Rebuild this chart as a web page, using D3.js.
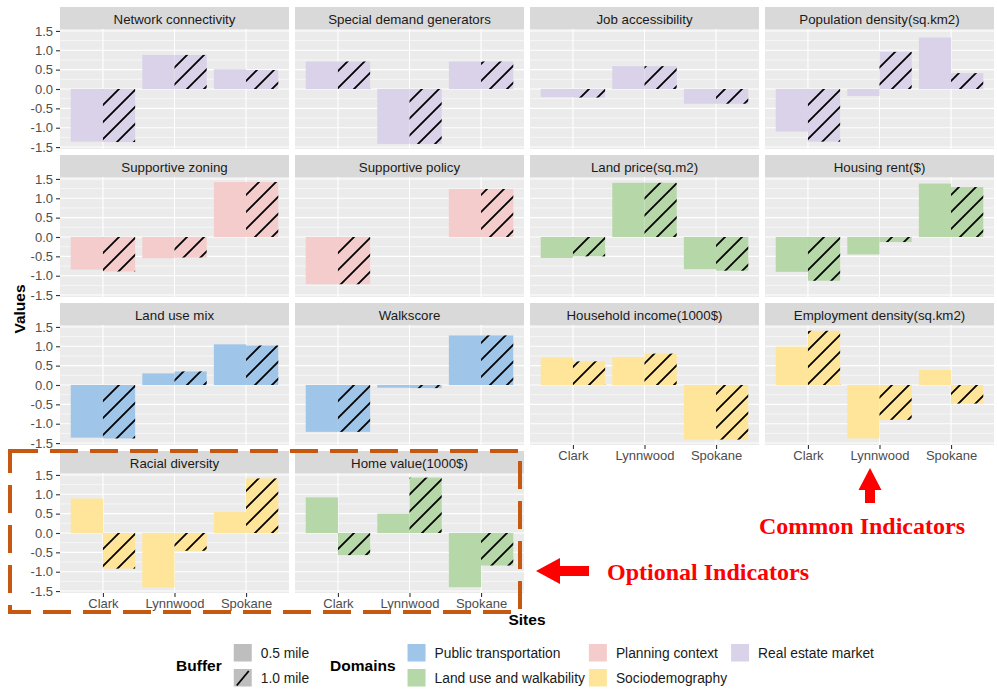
<!DOCTYPE html>
<html>
<head>
<meta charset="utf-8">
<script src="https://cdn.jsdelivr.net/npm/d3@7/dist/d3.min.js"></script>
<style>
  html, body { margin: 0; padding: 0; background: #ffffff; }
  svg { display: block; font-family: "Liberation Sans", Arial, sans-serif; }
</style>
</head>
<body>
<svg id="chart" width="997" height="692"></svg>
<script>
// Sites compared on the x axis of every facet
const sites = ["Clark", "Lynnwood", "Spokane"];
// Buffer radii (dodged bars; the wider buffer is hatched)
const buffers = ["0.5 mile", "1.0 mile"];
// Facet titles, in facet order
const indicators = [
  "Network connectivity", "Special demand generators", "Job accessibility", "Population density(sq.km2)",
  "Supportive zoning", "Supportive policy", "Land price(sq.m2)", "Housing rent($)",
  "Land use mix", "Walkscore", "Household income(1000$)", "Employment density(sq.km2)",
  "Racial diversity", "Home value(1000$)"
];
// Domain each indicator belongs to
const indicatorDomain = [
  "Real estate market", "Real estate market", "Real estate market", "Real estate market",
  "Planning context", "Planning context", "Land use and walkability", "Land use and walkability",
  "Public transportation", "Public transportation", "Sociodemography", "Sociodemography",
  "Sociodemography", "Land use and walkability"
];
// Standardised values per indicator for Clark, Lynnwood, Spokane — 0.5 mile buffer
const values05 = [
  [-1.36, 0.88, 0.51], [0.71, -1.42, 0.71], [-0.21, 0.59, -0.38], [-1.10, -0.18, 1.33],
  [-0.84, -0.55, 1.42], [-1.22, 0.00, 1.24], [-0.54, 1.40, -0.83], [-0.90, -0.45, 1.38],
  [-1.36, 0.30, 1.05], [-1.21, -0.07, 1.28], [0.71, 0.72, -1.41], [0.99, -1.38, 0.39],
  [0.89, -1.41, 0.54], [0.92, 0.50, -1.40]
];
// Same indicators — 1.0 mile buffer
const values10 = [
  [-1.37, 0.88, 0.49], [0.71, -1.42, 0.71], [-0.22, 0.59, -0.38], [-1.36, 0.96, 0.41],
  [-0.89, -0.53, 1.42], [-1.22, 0.00, 1.24], [-0.50, 1.40, -0.87], [-1.13, -0.13, 1.29],
  [-1.38, 0.35, 1.02], [-1.21, -0.08, 1.28], [0.61, 0.81, -1.41], [1.40, -0.90, -0.48],
  [-0.92, -0.46, 1.41], [-0.57, 1.43, -0.84]
];
// Legend order of the domains and their fills
const domainNames = ["Public transportation", "Land use and walkability", "Planning context", "Sociodemography", "Real estate market"];
const domainColors = ["#9fc5e8", "#b6d7a8", "#f4cccc", "#ffe599", "#d9d2e9"];
// y axis ticks
const yTicks = [-1.5, -1.0, -0.5, 0.0, 0.5, 1.0, 1.5];
const yMinor = [-1.25, -0.75, -0.25, 0.25, 0.75, 1.25];

const svg = d3.select("#chart");
const color = d3.scaleOrdinal().domain(domainNames).range(domainColors);

// facet layout
const nCol = 4;
const left0 = 60, colStep = 235, panelW = 229;
const top0 = 7, rowStep = 148, stripH = 22, panelH = 120;
const fmt = v => v.toFixed(1);

// hatch pattern for the 1.0 mile bars
const defs = svg.append("defs");
const pat = defs.append("pattern")
  .attr("id", "hatch").attr("patternUnits", "userSpaceOnUse")
  .attr("width", 17).attr("height", 17);
pat.append("path")
  .attr("d", "M0,17 L17,0 M-4,4 L4,-4 M13,21 L21,13")
  .attr("stroke", "#000").attr("stroke-width", 1.8).attr("fill", "none");

const y = d3.scaleLinear().domain([-1.55, 1.55]).range([panelH, 0]);
const x = d3.scaleLinear().domain([0.4, 3.6]).range([0, panelW]);
const barW = x(1.45) - x(1);

indicators.forEach((name, i) => {
  const row = Math.floor(i / nCol), col = i % nCol;
  const gx = left0 + col * colStep;
  const gy = top0 + row * rowStep;
  const g = svg.append("g").attr("transform", `translate(${gx},${gy})`);

  // strip
  g.append("rect").attr("width", panelW).attr("height", stripH).attr("fill", "#d9d9d9");
  g.append("text").attr("x", panelW / 2).attr("y", 16.5)
    .attr("text-anchor", "middle").attr("font-size", 13.3).attr("fill", "#1a1a1a").text(name);

  const p = g.append("g").attr("transform", `translate(0,${stripH})`);
  p.append("rect").attr("width", panelW).attr("height", panelH).attr("fill", "#ebebeb");

  // grid
  p.selectAll(".minor").data(yMinor).enter().append("line")
    .attr("x1", 0).attr("x2", panelW).attr("y1", d => y(d)).attr("y2", d => y(d))
    .attr("stroke", "#ffffff").attr("stroke-width", 0.55);
  p.selectAll(".major").data(yTicks).enter().append("line")
    .attr("x1", 0).attr("x2", panelW).attr("y1", d => y(d)).attr("y2", d => y(d))
    .attr("stroke", "#ffffff").attr("stroke-width", 1.1);
  p.selectAll(".vgrid").data(sites).enter().append("line")
    .attr("x1", (d, k) => x(k + 1)).attr("x2", (d, k) => x(k + 1))
    .attr("y1", 0).attr("y2", panelH)
    .attr("stroke", "#ffffff").attr("stroke-width", 1.1);

  const fill = color(indicatorDomain[i]);
  const bars = [];
  sites.forEach((s, k) => {
    bars.push({ k, b: 0, v: values05[i][k] });
    bars.push({ k, b: 1, v: values10[i][k] });
  });
  const bx = d => x(d.k + 1) - barW + d.b * barW;
  const by = d => Math.min(y(d.v), y(0));
  const bh = d => Math.abs(y(d.v) - y(0));
  p.selectAll(".bar").data(bars).enter().append("rect")
    .attr("x", bx).attr("y", by).attr("width", barW).attr("height", bh).attr("fill", fill);
  p.selectAll(".hatch").data(bars.filter(d => d.b === 1)).enter().append("rect")
    .attr("x", bx).attr("y", by).attr("width", barW).attr("height", bh).attr("fill", "url(#hatch)");

  // y axis on the first column
  if (col === 0) {
    const ax = p.append("g").call(d3.axisLeft(y).tickValues(yTicks).tickFormat(fmt).tickSize(4).tickPadding(3));
    ax.select(".domain").remove();
    ax.selectAll(".tick line").attr("stroke", "#333333").attr("stroke-width", 1.1);
    ax.selectAll(".tick text").attr("fill", "#4d4d4d").attr("font-size", 13)
      .attr("font-family", "'Liberation Sans', Arial, sans-serif");
  }
  // x axis on the lowest facet of each column
  const lastRow = (col < 2) ? 3 : 2;
  if (row === lastRow) {
    const xa = p.append("g").attr("transform", `translate(0,${panelH})`)
      .call(d3.axisBottom(x).tickValues([1, 2, 3]).tickFormat(d => sites[d - 1]).tickSize(4).tickPadding(2));
    xa.select(".domain").remove();
    xa.selectAll(".tick line").attr("stroke", "#333333").attr("stroke-width", 1.1);
    xa.selectAll(".tick text").attr("fill", "#4d4d4d").attr("font-size", 13)
      .attr("font-family", "'Liberation Sans', Arial, sans-serif");
  }
});

// axis titles
svg.append("text").attr("transform", "translate(25,309) rotate(-90)")
  .attr("text-anchor", "middle").attr("font-size", 15.5).attr("font-weight", "bold").attr("fill", "#000").text("Values");
svg.append("text").attr("x", 527).attr("y", 625)
  .attr("text-anchor", "middle").attr("font-size", 15.5).attr("font-weight", "bold").attr("fill", "#000").text("Sites");

// legend: two guides side by side, centred under the plot
const lg = svg.append("g");
const titleSize = 15.5, labelSize = 13.8;
const keyW = 18, keyH = 17.5;
const rowY = [644, 669];
const titleGap = 12, keyLabelGap = 9, colGap = 4, guideGap = 21;
let cursor = 0;

const bufTitle = lg.append("text").attr("font-size", titleSize).attr("font-weight", "bold")
  .attr("y", 671).attr("x", cursor).text("Buffer");
cursor += bufTitle.node().getComputedTextLength() + titleGap;
let labelMax = 0;
buffers.forEach((b, k) => {
  const ky = rowY[k];
  lg.append("rect").attr("x", cursor).attr("y", ky).attr("width", keyW).attr("height", keyH).attr("fill", "#bebebe");
  if (k === 1) {
    lg.append("line").attr("x1", cursor + 3).attr("y1", ky + keyH - 1).attr("x2", cursor + keyW - 3).attr("y2", ky + 2)
      .attr("stroke", "#000").attr("stroke-width", 1.8);
  }
  const t = lg.append("text").attr("font-size", labelSize).attr("fill", "#1a1a1a")
    .attr("x", cursor + keyW + keyLabelGap).attr("y", ky + 13.5).text(b);
  labelMax = Math.max(labelMax, t.node().getComputedTextLength());
});
cursor += keyW + keyLabelGap + labelMax + guideGap;

const domTitle = lg.append("text").attr("font-size", titleSize).attr("font-weight", "bold")
  .attr("y", 671).attr("x", cursor).text("Domains");
cursor += domTitle.node().getComputedTextLength() + titleGap;
const nColumns = Math.ceil(domainNames.length / 2);
for (let c = 0; c < nColumns; c++) {
  let colMax = 0;
  domainNames.slice(c * 2, c * 2 + 2).forEach((d, r) => {
    const ky = rowY[r];
    lg.append("rect").attr("x", cursor).attr("y", ky).attr("width", keyW).attr("height", keyH).attr("fill", color(d));
    const t = lg.append("text").attr("font-size", labelSize).attr("fill", "#1a1a1a")
      .attr("x", cursor + keyW + keyLabelGap).attr("y", ky + 13.5).text(d);
    colMax = Math.max(colMax, t.node().getComputedTextLength());
  });
  cursor += keyW + keyLabelGap + colMax + (c < nColumns - 1 ? colGap : 0);
}
lg.attr("transform", `translate(${525 - cursor / 2},0)`);

// callout: optional indicators box
svg.append("rect").attr("x", 10).attr("y", 451).attr("width", 510).attr("height", 161)
  .attr("fill", "none").attr("stroke", "#c65911").attr("stroke-width", 4).attr("stroke-dasharray", "28 12");

// arrows and labels
svg.append("path").attr("d", "M870,468 L881.5,490 L875,490 L875,503 L865,503 L865,490 L858.5,490 Z").attr("fill", "#ff0000");
svg.append("path").attr("d", "M536,571 L560,558 L560,566 L589,566 L589,576 L560,576 L560,584 Z").attr("fill", "#ff0000");
svg.append("text").attr("x", 759).attr("y", 534)
  .attr("font-family", "'Liberation Serif', 'Times New Roman', serif").attr("font-weight", "bold")
  .attr("font-size", 24).attr("fill", "#ff0000").text("Common Indicators");
svg.append("text").attr("x", 607).attr("y", 580)
  .attr("font-family", "'Liberation Serif', 'Times New Roman', serif").attr("font-weight", "bold")
  .attr("font-size", 24).attr("fill", "#ff0000").text("Optional Indicators");
</script>
</body>
</html>
